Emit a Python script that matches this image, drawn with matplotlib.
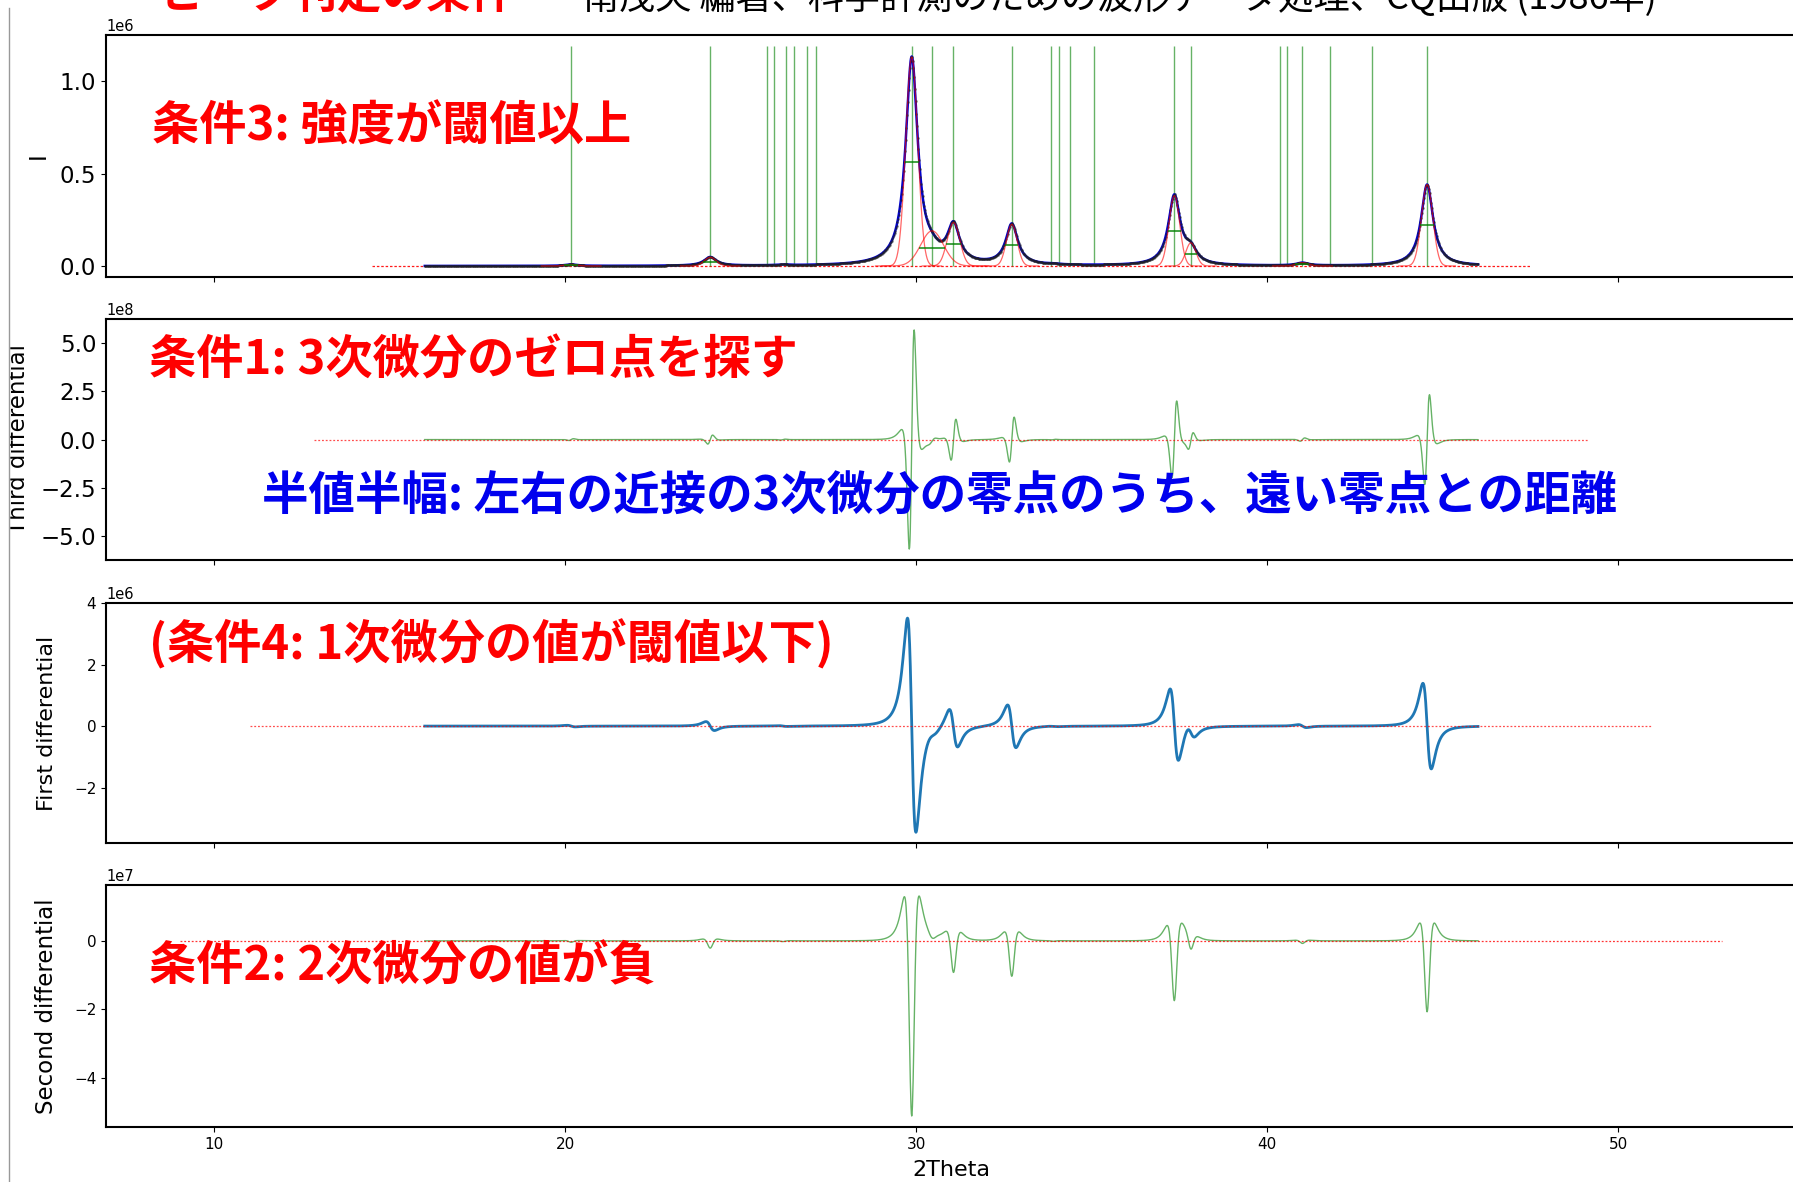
import numpy as np
import matplotlib
matplotlib.use("Agg")
import matplotlib.pyplot as plt
from matplotlib.lines import Line2D
from matplotlib.patches import Rectangle

# ---------------- data ----------------
two_theta_start = 16.0
two_theta_stop = 46.0
two_theta_step = 0.01

# measured diffraction peaks: position (2theta), height, half width at half max
peak_pos = [20.17, 24.13, 26.20, 29.87, 30.45, 31.06, 32.72, 33.90, 37.35, 37.82, 41.00, 44.55]
peak_height = [0.008e6, 0.047e6, 0.004e6, 1.12e6, 0.035e6, 0.20e6, 0.22e6, 0.003e6,
               0.375e6, 0.07e6, 0.015e6, 0.44e6]
peak_hwhm = [0.20, 0.21, 0.20, 0.208, 0.25, 0.205, 0.205, 0.20, 0.205, 0.20, 0.20, 0.205]

# fitted components (red) with their half-width bars (green)
fit_pos = [20.17, 24.13, 29.87, 30.45, 31.06, 32.72, 37.35, 37.82, 41.00, 44.55]
fit_height = [0.008e6, 0.047e6, 1.13e6, 0.19e6, 0.235e6, 0.225e6, 0.38e6, 0.125e6, 0.018e6, 0.44e6]
fit_hwhm = [0.20, 0.20, 0.20, 0.38, 0.21, 0.18, 0.18, 0.17, 0.20, 0.19]

# candidate peak positions (zero points of the third differential)
candidate_pos = [20.17, 24.13, 25.75, 25.94, 26.29, 26.53, 26.90, 27.15, 29.87, 30.45,
                 31.06, 32.72, 33.84, 34.06, 34.39, 35.05, 37.35, 37.82, 40.36, 40.57,
                 41.00, 41.77, 42.98, 44.55]

x_ticks = [10, 20, 30, 40, 50]
i_ticks = [0.0, 0.5e6, 1.0e6]
d3_ticks = [-5e8, -2.5e8, 0.0, 2.5e8, 5e8]
d1_ticks = [-2e6, 0.0, 2e6, 4e6]
d2_ticks = [-4e7, -2e7, 0.0]

ylabel_i = "I"
ylabel_d3 = "Third differential"
ylabel_d1 = "First differential"
ylabel_d2 = "Second differential"
xlabel = "2Theta"

title_red = "ピーク判定の条件"
title_black = "南茂夫 編著、科学計測のための波形データ処理、CQ出版 (1986年)"
note_cond3 = "条件3: 強度が閾値以上"
note_cond1 = "条件1: 3次微分のゼロ点を探す"
note_hwhm = "半値半幅: 左右の近接の3次微分の零点のうち、遠い零点との距離"
note_cond4 = "(条件4: 1次微分の値が閾値以下)"
note_cond2 = "条件2: 2次微分の値が負"

# ---------------- derived series ----------------
x = np.arange(two_theta_start, two_theta_stop + two_theta_step / 2, two_theta_step)
intensity = np.zeros_like(x)
for c, h, w in zip(peak_pos, peak_height, peak_hwhm):
    intensity += h / (1.0 + ((x - c) / w) ** 2)
d1 = np.gradient(intensity, x)
d2 = np.gradient(d1, x)
d3 = np.gradient(d2, x)

# ---------------- figure ----------------
W, H = 1793, 1182
fig = plt.figure(figsize=(W / 100, H / 100), dpi=100)
fig.patch.set_facecolor("white")


def box(top_px, bottom_px, left_px=106, right_px=1801):
    return [left_px / W, 1 - bottom_px / H, (right_px - left_px) / W, (bottom_px - top_px) / H]


ax1 = fig.add_axes(box(35, 277))
ax2 = fig.add_axes(box(319, 560), sharex=ax1)
ax3 = fig.add_axes(box(603, 843), sharex=ax1)
ax4 = fig.add_axes(box(885, 1127), sharex=ax1)

# top: intensity with fit
ax1.plot(x, intensity, color="#0000cc", lw=1.8, zorder=3)
ax1.plot(x, intensity, ".", color="#222222", ms=2.0, alpha=0.45, markevery=2, zorder=4)
for c, h, w in zip(fit_pos, fit_height, fit_hwhm):
    sig = w / np.sqrt(2 * np.log(2))
    xx = np.linspace(c - 5 * sig, c + 5 * sig, 200)
    ax1.plot(xx, h * np.exp(-0.5 * ((xx - c) / sig) ** 2), color="red", lw=0.9, alpha=0.6, zorder=5)
    ax1.hlines(h / 2, c - w, c + w, color="green", lw=1.3, alpha=0.8, zorder=6)
ax1.vlines(candidate_pos, 0, 1.05 * intensity.max(), color="green", lw=1.0, alpha=0.6, zorder=2)
ax1.hlines(0, *ax1.get_xlim(), color="red", lw=0.9, linestyles=(0, (2, 1.5)), alpha=0.9, zorder=1)

# third differential
ax2.plot(x, d3, color="green", lw=1.0, alpha=0.6)
ax2.hlines(0, *ax2.get_xlim(), color="red", lw=0.9, linestyles=(0, (1.5, 1.5)), alpha=0.7)

# first differential
ax3.plot(x, d1, color="tab:blue", lw=2.0)
ax3.hlines(0, *ax3.get_xlim(), color="red", lw=0.9, linestyles=(0, (1.5, 1.5)), alpha=0.7)

# second differential
ax4.plot(x, d2, color="green", lw=1.0, alpha=0.6)
ax4.hlines(0, *ax4.get_xlim(), color="red", lw=0.9, linestyles=(0, (1.5, 1.5)), alpha=0.8)

ax1.set_xlim(6.92, 55.2)
ax1.set_xticks(x_ticks)
ax1.set_yticks(i_ticks)
ax2.set_yticks(d3_ticks)
ax3.set_yticks(d1_ticks)
ax4.set_yticks(d2_ticks)

for ax in (ax1, ax2, ax3):
    ax.tick_params(labelbottom=False)
for ax, big in ((ax1, True), (ax2, True), (ax3, False), (ax4, False)):
    ax.tick_params(axis="y", labelsize=16.5 if big else 11)
    ax.tick_params(axis="x", labelsize=11)
    ax.yaxis.get_offset_text().set_fontsize(10.5)
    for sp in ax.spines.values():
        sp.set_linewidth(1.5)

ylab_font = dict(family="DejaVu Sans", va="center")
ax1.set_ylabel(ylabel_i, fontsize=16.5, **ylab_font)
ax2.set_ylabel(ylabel_d3, fontsize=16.5, **ylab_font)
ax3.set_ylabel(ylabel_d1, fontsize=16.0, **ylab_font)
ax4.set_ylabel(ylabel_d2, fontsize=16.5, **ylab_font)
for ax, xpx, top, bot in ((ax1, 38, 35, 277), (ax2, 19, 319, 560), (ax3, 47, 603, 843), (ax4, 47, 885, 1127)):
    ax.yaxis.set_label_coords(xpx / W, 1 - (top + bot) / 2 / H, transform=fig.transFigure)
ax4.set_xlabel(xlabel, fontsize=16)
ax4.xaxis.set_label_coords(951 / W, 1 - 1160 / H, transform=fig.transFigure)

# slide border on the left
fig.patches.append(Rectangle((0, 0), 8.5 / W, 1, transform=fig.transFigure, color="white", zorder=10))
fig.lines.append(Line2D([9 / W, 9 / W], [0, 1 - 8 / H], transform=fig.transFigure, color="#999999", lw=1.0, zorder=11))

jp = ["Noto Sans CJK JP", "DejaVu Sans"]


def ftext(xpx, ypx, s, **kw):
    fig.text(xpx / W, 1 - ypx / H, s, family=jp, **kw)


ftext(160, 8, title_red, color="red", fontsize=32, weight="bold", va="baseline", ha="left")
ftext(583, 9, title_black, color="black", fontsize=26, va="baseline", ha="left")
ftext(152, 127, note_cond3, color="red", fontsize=34, weight="bold", va="center", ha="left")
ftext(149, 361, note_cond1, color="red", fontsize=34, weight="bold", va="center", ha="left")
ftext(262, 497, note_hwhm, color="#0000ee", fontsize=33.5, weight="bold", va="center", ha="left")
ftext(149, 644, note_cond4, color="red", fontsize=34, weight="bold", va="center", ha="left")
ftext(149, 966, note_cond2, color="red", fontsize=34, weight="bold", va="center", ha="left")

fig.savefig("out.png", dpi=100)
